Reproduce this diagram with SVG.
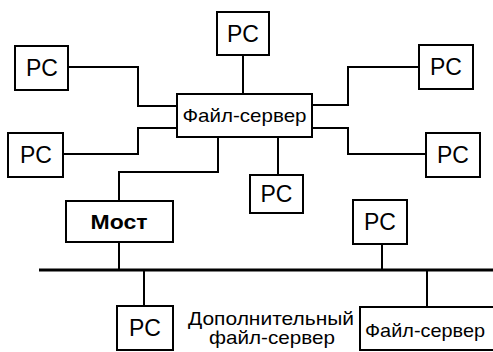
<svg xmlns="http://www.w3.org/2000/svg" width="493" height="352" viewBox="0 0 493 352">
<style>
.box{fill:#fff;stroke:#000;stroke-width:2}
.ln{fill:none;stroke:#000;stroke-width:2}
.bus{fill:none;stroke:#000;stroke-width:3}
.pc{font-family:"Liberation Sans",Arial,sans-serif;font-size:23px;text-anchor:middle;fill:#000}
.fs{font-family:"Liberation Sans",Arial,sans-serif;font-size:19px;text-anchor:middle;fill:#000}
.most{font-family:"Liberation Sans",Arial,sans-serif;font-size:21px;font-weight:bold;text-anchor:middle;fill:#000}
</style>
<rect width="493" height="352" fill="#fff"/>
<g id="connectors">
<polyline class="ln" points="68,67 138,67 138,106 177,106"/>
<polyline class="ln" points="63,154 138,154 138,128 177,128"/>
<line class="ln" x1="243" y1="55" x2="243" y2="94"/>
<polyline class="ln" points="312,105 348,105 348,67 419,67"/>
<polyline class="ln" points="312,128 348,128 348,154 426,154"/>
<line class="ln" x1="278" y1="137" x2="278" y2="175"/>
<polyline class="ln" points="218,137 218,172 119,172 119,201"/>
<line class="ln" x1="119" y1="242" x2="119" y2="270"/>
<line class="bus" x1="39" y1="270" x2="493" y2="270"/>
<line class="ln" x1="144" y1="270" x2="144" y2="306"/>
<line class="ln" x1="382" y1="244" x2="382" y2="270"/>
<line class="ln" x1="427" y1="270" x2="427" y2="307"/>
</g>
<g id="fileserver">
<rect class="box" x="177" y="94" width="135" height="43"/>
<text class="fs" x="244.5" y="122" textLength="124" lengthAdjust="spacingAndGlyphs">Файл-сервер</text>
</g>
<g id="pc-top">
<rect class="box" x="217" y="12" width="52" height="43"/>
<text class="pc" x="243" y="42">PC</text>
</g>
<g id="pc-left-1">
<rect class="box" x="15" y="46" width="53" height="44"/>
<text class="pc" x="42" y="76">PC</text>
</g>
<g id="pc-left-2">
<rect class="box" x="8" y="133" width="55" height="44"/>
<text class="pc" x="36" y="163">PC</text>
</g>
<g id="pc-right-1">
<rect class="box" x="419" y="45" width="54" height="44"/>
<text class="pc" x="446" y="75">PC</text>
</g>
<g id="pc-right-2">
<rect class="box" x="426" y="133" width="54" height="44"/>
<text class="pc" x="453" y="163">PC</text>
</g>
<g id="pc-mid">
<rect class="box" x="250" y="175" width="53" height="38"/>
<text class="pc" x="276.5" y="202">PC</text>
</g>
<g id="most">
<rect class="box" x="66" y="201" width="107" height="41"/>
<text class="most" x="119" y="229" textLength="57" lengthAdjust="spacingAndGlyphs">Мост</text>
</g>
<g id="pc-bus-right">
<rect class="box" x="353" y="200" width="54" height="44"/>
<text class="pc" x="380" y="230">PC</text>
</g>
<g id="pc-bottom">
<rect class="box" x="117" y="306" width="56" height="44"/>
<text class="pc" x="145" y="336">PC</text>
</g>
<g id="label-extra">
<text class="fs" x="271" y="325" textLength="166" lengthAdjust="spacingAndGlyphs">Дополнительный</text>
<text class="fs" x="272" y="344" textLength="126" lengthAdjust="spacingAndGlyphs">файл-сервер</text>
</g>
<g id="fileserver-extra">
<rect class="box" x="360" y="307" width="140" height="43"/>
<text class="fs" x="425" y="337" textLength="120" lengthAdjust="spacingAndGlyphs">Файл-сервер</text>
</g>
</svg>
